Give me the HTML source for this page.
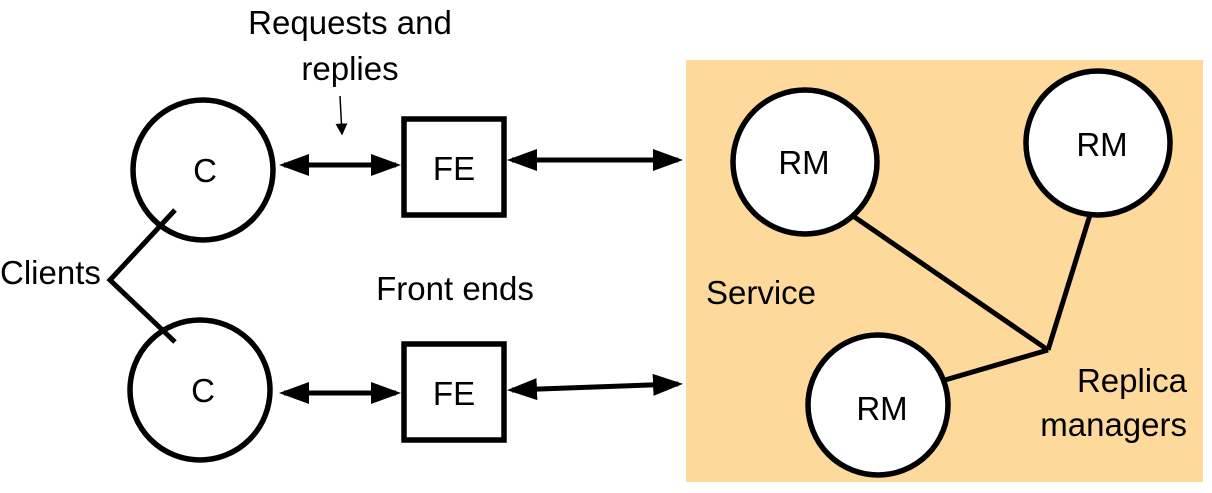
<!DOCTYPE html>
<html><head><style>
html,body{margin:0;padding:0;background:#fff;}
svg text{font-family:"Liberation Sans",Arial,sans-serif;font-size:33px;fill:#000;}
</style></head><body>
<svg width="1212" height="488" viewBox="0 0 1212 488" xmlns="http://www.w3.org/2000/svg">
<defs>
<marker id="ah" markerWidth="6" markerHeight="6" refX="5" refY="3" orient="auto-start-reverse" markerUnits="strokeWidth">
<path d="M0,0.8 L6,3 L0,5.2 Z" fill="#000"/>
</marker>
<marker id="sa" markerWidth="8" markerHeight="8" refX="7" refY="4" orient="auto" markerUnits="strokeWidth">
<path d="M0,0 L8,4 L0,8 Z" fill="#000"/>
</marker>
</defs>
<rect x="686" y="60" width="517" height="422" fill="#fdd99b"/>
<g fill="#fff" stroke="#000" stroke-width="5.5">
<circle cx="203" cy="170" r="70"/>
<circle cx="200" cy="390" r="70"/>
<rect x="404" y="119" width="100" height="96"/>
<rect x="404" y="344" width="100" height="96"/>
<circle cx="805" cy="162" r="72"/>
<circle cx="1098" cy="143" r="72"/>
<circle cx="878" cy="405" r="70"/>
</g>
<g stroke="#000" stroke-width="5" fill="none">
<line x1="853" y1="216" x2="1048" y2="350"/>
<line x1="1090" y1="215" x2="1048" y2="350"/>
<line x1="945" y1="380" x2="1048" y2="350"/>
<polyline points="175,210 110,280 175,342"/>
<line x1="284" y1="165" x2="396" y2="165" marker-start="url(#ah)" marker-end="url(#ah)"/>
<line x1="512" y1="160" x2="678" y2="160" marker-start="url(#ah)" marker-end="url(#ah)"/>
<line x1="284" y1="393" x2="396" y2="393" marker-start="url(#ah)" marker-end="url(#ah)"/>
<line x1="512" y1="390" x2="678" y2="384" marker-start="url(#ah)" marker-end="url(#ah)"/>
</g>
<line x1="340" y1="96" x2="342" y2="134" stroke="#000" stroke-width="1.5" marker-end="url(#sa)"/>
<text x="350" y="34" text-anchor="middle">Requests and</text>
<text x="350" y="80" text-anchor="middle">replies</text>
<text x="205" y="182" text-anchor="middle">C</text>
<text x="203" y="402" text-anchor="middle">C</text>
<text x="454" y="180" text-anchor="middle">FE</text>
<text x="454" y="405" text-anchor="middle">FE</text>
<text x="0" y="284">Clients</text>
<text x="455" y="300" text-anchor="middle">Front ends</text>
<text x="706" y="304">Service</text>
<text x="804" y="174" text-anchor="middle">RM</text>
<text x="1102" y="156" text-anchor="middle">RM</text>
<text x="882" y="420" text-anchor="middle">RM</text>
<text x="1187" y="392" text-anchor="end">Replica</text>
<text x="1187" y="436" text-anchor="end">managers</text>
</svg>
</body></html>
